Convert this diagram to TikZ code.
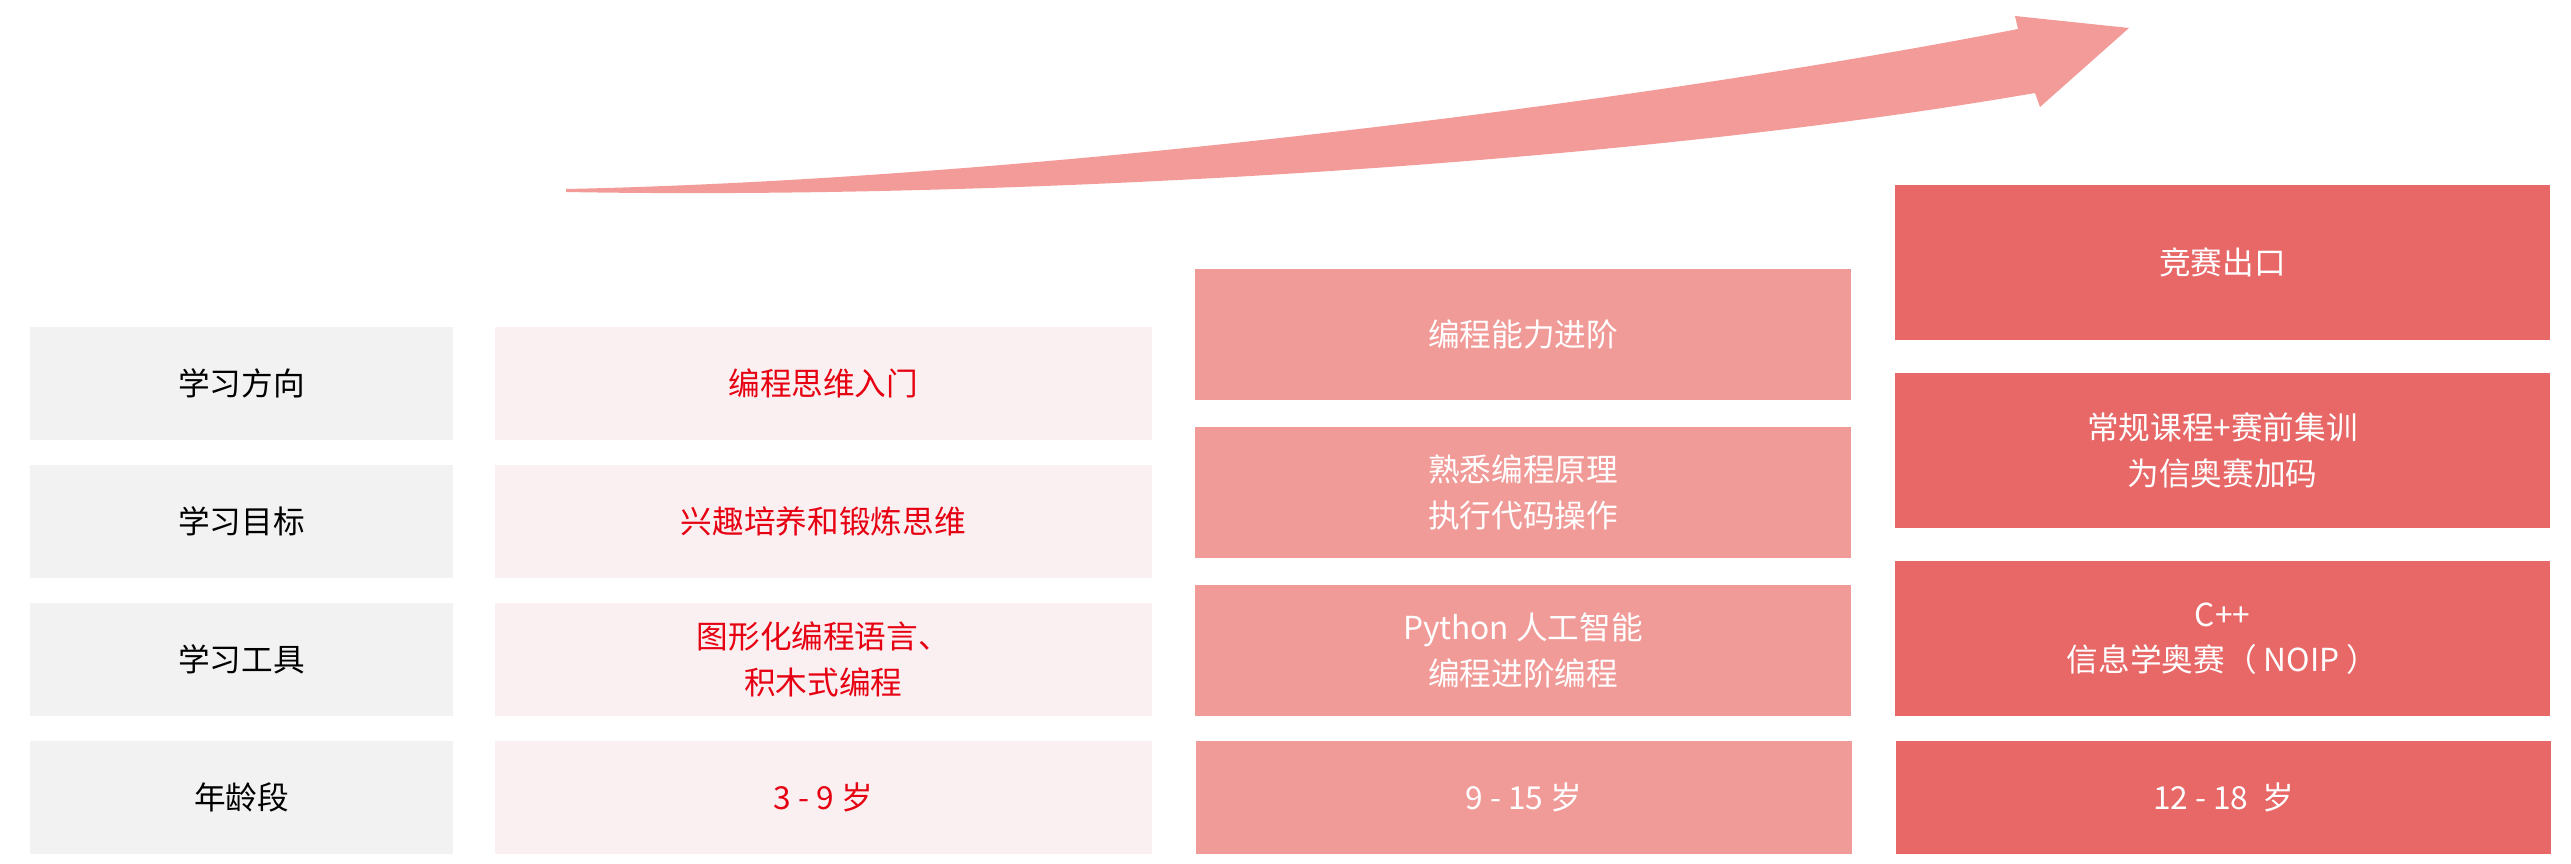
\documentclass[tikz,border=0pt]{standalone}
\usepackage{fontspec}
\setmainfont{Noto Sans CJK SC}
\usetikzlibrary{positioning}

\definecolor{cellgray}{HTML}{F2F2F2}
\definecolor{cellblush}{HTML}{FBF0F1}
\definecolor{cellpink}{HTML}{F19B98}
\definecolor{cellred}{HTML}{E86767}
\definecolor{textred}{HTML}{E60012}
\definecolor{arrowpink}{HTML}{F29B98}

\tikzset{
  cell/.style={inner sep=0pt, outer sep=0pt, align=center,
    font=\fontsize{9}{13}\selectfont},
  headcell/.style={cell, fill=cellgray, text=black,
    minimum width=4.23cm, minimum height=1.13cm},
  startcell/.style={cell, fill=cellblush, text=textred,
    minimum width=6.56cm, minimum height=1.13cm},
  midcell/.style={cell, fill=cellpink, text=white,
    minimum width=6.56cm, minimum height=1.31cm},
  topcell/.style={cell, fill=cellred, text=white,
    minimum width=6.55cm, minimum height=1.55cm},
}

\begin{document}
\begin{tikzpicture}[x=0.01cm, y=-0.01cm]
  \useasboundingbox (0,0) rectangle (2571,864);

  % Freccia di crescita
  \fill[arrowpink] (566,189) .. controls (1000,180) and (1600,110) .. (2018,29)
    -- (2015,16) -- (2129,28) -- (2040,107) -- (2035,93)
    .. controls (1620,165) and (1000,200) .. (566,192) -- cycle;

  % Prima colonna: voci
  \node[headcell] (dir) at (241.5,383.5) {学习方向};
  \node[headcell, below=0.25cm of dir] (goal) {学习目标};
  \node[headcell, below=0.25cm of goal] (tool) {学习工具};
  \node[headcell, below=0.25cm of tool] (age) {年龄段};

  % Livello base
  \node[startcell, right=0.42cm of dir] (dirA) {编程思维入门};
  \node[startcell, right=0.42cm of goal] (goalA) {兴趣培养和锻炼思维};
  \node[startcell, right=0.42cm of tool] (toolA) {图形化编程语言、\\积木式编程};
  \node[startcell, right=0.42cm of age] (ageA) {3 - 9 岁};

  % Livello intermedio
  \node[midcell] (dirB) at (1523,334.5) {编程能力进阶};
  \node[midcell, below=0.27cm of dirB] (goalB) {熟悉编程原理\\执行代码操作};
  \node[midcell, below=0.27cm of goalB] (toolB) {Python 人工智能\\编程进阶编程};
  \node[midcell, minimum height=1.13cm, right=0.44cm of ageA] (ageB) {9 - 15 岁};

  % Livello avanzato
  \node[topcell] (dirC) at (2222.5,262.5) {竞赛出口};
  \node[topcell, below=0.33cm of dirC] (goalC) {常规课程+赛前集训\\为信奥赛加码};
  \node[topcell, below=0.33cm of goalC] (toolC) {C++\\信息学奥赛（ NOIP ）};
  \node[topcell, minimum height=1.13cm, right=0.44cm of ageB] (ageC) {12 - 18 \ 岁};
\end{tikzpicture}
\end{document}
